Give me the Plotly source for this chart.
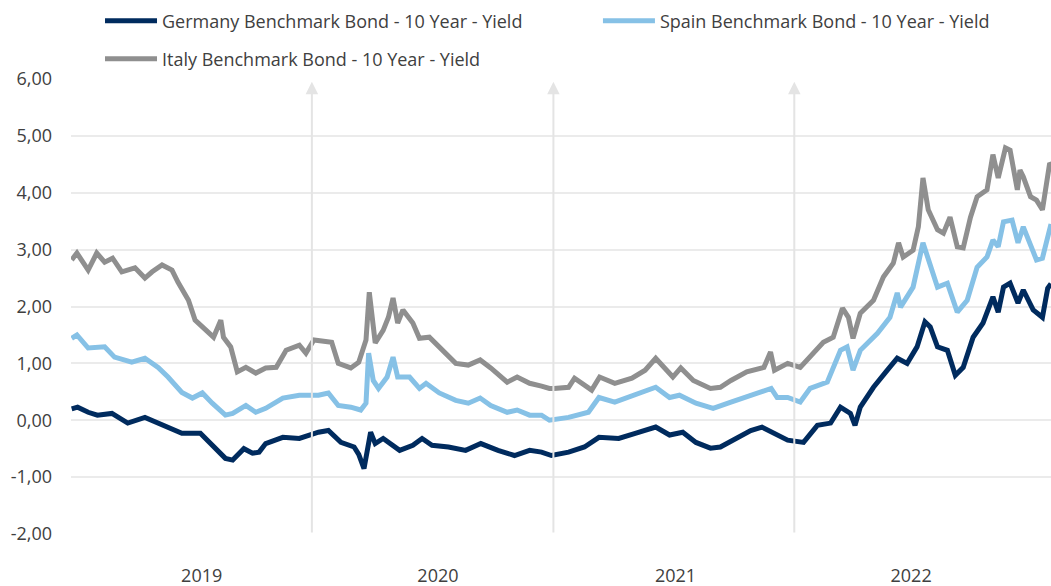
import plotly.graph_objects as go

# ---------------- data ----------------
de_dates = ["2019-01-02","2019-01-11","2019-01-27","2019-02-10","2019-03-04","2019-03-28","2019-04-23","2019-05-19",
            "2019-06-18","2019-07-16","2019-08-03","2019-08-23","2019-09-03","2019-09-20","2019-10-03","2019-10-13",
            "2019-10-23","2019-11-18","2019-12-13","2020-01-01","2020-01-11","2020-01-26","2020-02-14","2020-03-05",
            "2020-03-12","2020-03-20","2020-03-30","2020-04-06","2020-04-18","2020-05-13","2020-06-02","2020-06-16",
            "2020-07-01","2020-07-26","2020-08-21","2020-09-13","2020-10-09","2020-11-03","2020-11-26","2020-12-14",
            "2020-12-29","2021-01-24","2021-02-17","2021-03-11","2021-04-10","2021-05-05","2021-06-05","2021-06-26",
            "2021-07-16","2021-08-05","2021-08-27","2021-09-11","2021-10-06","2021-10-27","2021-11-13","2021-12-02",
            "2021-12-22","2022-01-15","2022-02-05","2022-02-25","2022-03-12","2022-03-27","2022-04-03","2022-04-11",
            "2022-05-01","2022-05-22","2022-06-06","2022-06-21","2022-07-06","2022-07-18","2022-07-26","2022-08-06",
            "2022-08-21","2022-09-02","2022-09-14","2022-09-29","2022-10-14","2022-10-29","2022-11-06","2022-11-14",
            "2022-11-24","2022-12-06","2022-12-14","2022-12-29","2023-01-12","2023-01-20","2023-01-25"]
de_values = [0.20,0.23,0.14,0.09,0.12,-0.05,0.05,-0.09,
             -0.23,-0.23,-0.44,-0.67,-0.70,-0.50,-0.58,-0.56,
             -0.41,-0.30,-0.32,-0.25,-0.21,-0.18,-0.39,-0.47,
             -0.60,-0.85,-0.21,-0.41,-0.32,-0.53,-0.44,-0.32,
             -0.44,-0.47,-0.53,-0.41,-0.53,-0.62,-0.53,-0.56,
             -0.62,-0.56,-0.47,-0.30,-0.32,-0.23,-0.12,-0.26,
             -0.21,-0.39,-0.49,-0.47,-0.30,-0.18,-0.12,-0.23,
             -0.35,-0.39,-0.09,-0.05,0.23,0.12,-0.09,0.23,
             0.58,0.88,1.09,1.00,1.29,1.73,1.64,1.29,
             1.23,0.79,0.93,1.46,1.71,2.17,1.90,2.34,
             2.41,2.06,2.29,1.94,1.81,2.32,2.40]

es_dates = ["2019-01-02","2019-01-10","2019-01-27","2019-02-21","2019-03-08","2019-04-03","2019-04-23","2019-05-13",
            "2019-05-28","2019-06-18","2019-07-04","2019-07-19","2019-08-03","2019-08-23","2019-09-03","2019-09-23",
            "2019-10-08","2019-10-23","2019-11-18","2019-12-13","2020-01-11","2020-01-26","2020-02-10","2020-02-29",
            "2020-03-15","2020-03-23","2020-03-27","2020-04-03","2020-04-11","2020-04-24","2020-05-03","2020-05-10",
            "2020-05-28","2020-06-12","2020-06-22","2020-07-12","2020-08-06","2020-08-25","2020-09-12","2020-09-28",
            "2020-10-23","2020-11-07","2020-11-26","2020-12-14","2020-12-26","2021-01-16","2021-01-24","2021-02-23",
            "2021-03-11","2021-04-04","2021-05-05","2021-06-05","2021-06-26","2021-07-11","2021-08-05","2021-08-31",
            "2021-09-27","2021-10-27","2021-11-27","2021-12-06","2021-12-22","2022-01-10","2022-01-25","2022-02-20",
            "2022-03-12","2022-03-22","2022-03-31","2022-04-11","2022-05-07","2022-05-26","2022-06-06","2022-06-11",
            "2022-06-30","2022-07-15","2022-07-26","2022-08-06","2022-08-21","2022-09-05","2022-09-20","2022-10-05",
            "2022-10-20","2022-10-29","2022-11-06","2022-11-14","2022-11-27","2022-12-06","2022-12-14","2022-12-25",
            "2023-01-03","2023-01-12","2023-01-23","2023-01-25"]
es_values = [1.44,1.50,1.27,1.29,1.11,1.02,1.09,0.93,
             0.76,0.49,0.39,0.48,0.30,0.09,0.12,0.26,
             0.14,0.21,0.39,0.44,0.44,0.48,0.26,0.23,
             0.18,0.30,1.18,0.70,0.56,0.76,1.11,0.76,
             0.76,0.56,0.65,0.48,0.35,0.30,0.39,0.26,
             0.14,0.18,0.09,0.09,0.00,0.04,0.05,0.14,
             0.40,0.32,0.44,0.58,0.40,0.44,0.30,0.21,
             0.32,0.44,0.56,0.40,0.40,0.32,0.56,0.67,
             1.23,1.29,0.88,1.23,1.53,1.81,2.24,1.99,
             2.34,3.12,2.76,2.34,2.41,1.90,2.11,2.69,
             2.87,3.17,3.05,3.49,3.52,3.12,3.40,3.05,
             2.82,2.85,3.40,3.45]

it_dates = ["2019-01-02","2019-01-10","2019-01-27","2019-02-09","2019-02-21","2019-03-05","2019-03-19","2019-04-08",
            "2019-04-23","2019-05-04","2019-05-19","2019-06-03","2019-06-12","2019-06-28","2019-07-08","2019-07-24",
            "2019-08-05","2019-08-16","2019-08-20","2019-08-31","2019-09-10","2019-09-23","2019-10-08","2019-10-23",
            "2019-11-08","2019-11-23","2019-12-13","2019-12-23","2020-01-04","2020-01-31","2020-02-10","2020-02-29",
            "2020-03-12","2020-03-23","2020-03-28","2020-04-06","2020-04-18","2020-04-26","2020-05-03","2020-05-10",
            "2020-05-18","2020-06-02","2020-06-12","2020-06-27","2020-07-16","2020-08-06","2020-08-25","2020-09-12",
            "2020-09-28","2020-10-23","2020-11-07","2020-11-26","2020-12-14","2020-12-26","2021-01-02","2021-01-24",
            "2021-02-02","2021-02-28","2021-03-12","2021-04-04","2021-04-30","2021-05-20","2021-06-05","2021-06-15",
            "2021-07-01","2021-07-13","2021-08-01","2021-08-27","2021-09-11","2021-09-27","2021-10-21","2021-11-16",
            "2021-11-26","2021-12-02","2021-12-22","2022-01-10","2022-01-25","2022-02-14","2022-03-01","2022-03-15",
            "2022-03-24","2022-03-31","2022-04-11","2022-05-01","2022-05-16","2022-05-31","2022-06-08","2022-06-15",
            "2022-06-30","2022-07-08","2022-07-15","2022-07-23","2022-08-06","2022-08-15","2022-08-25","2022-09-05",
            "2022-09-14","2022-09-25","2022-10-05","2022-10-20","2022-10-29","2022-11-06","2022-11-17","2022-11-24",
            "2022-12-05","2022-12-09","2022-12-14","2022-12-25","2023-01-03","2023-01-12","2023-01-23","2023-01-25"]
it_values = [2.82,2.94,2.64,2.94,2.78,2.85,2.61,2.68,
             2.50,2.61,2.73,2.64,2.43,2.11,1.76,1.58,
             1.46,1.76,1.46,1.29,0.85,0.93,0.83,0.92,
             0.93,1.23,1.32,1.18,1.41,1.37,1.00,0.92,
             1.02,1.41,2.25,1.36,1.58,1.81,2.15,1.71,
             1.94,1.71,1.44,1.46,1.23,1.00,0.97,1.06,
             0.92,0.67,0.76,0.65,0.60,0.56,0.56,0.58,
             0.74,0.53,0.76,0.65,0.74,0.88,1.09,0.97,
             0.76,0.92,0.70,0.56,0.58,0.70,0.85,0.93,
             1.20,0.88,1.00,0.93,1.11,1.37,1.46,1.97,
             1.81,1.44,1.88,2.11,2.52,2.76,3.12,2.87,
             2.99,3.40,4.26,3.70,3.35,3.29,3.57,3.05,
             3.03,3.57,3.93,4.05,4.67,4.26,4.79,4.75,
             4.05,4.40,4.28,3.93,3.87,3.70,4.52,4.50]

year_labels = ["2019", "2020", "2021", "2022"]
year_label_dates = ["2019-07-18", "2020-07-10", "2021-07-05", "2022-06-27"]
year_bounds = ["2020-01-01", "2021-01-01", "2022-01-01"]
y_ticks = [-2, -1, 0, 1, 2, 3, 4, 5, 6]
y_ticktext = ["-2,00", "-1,00", "0,00", "1,00", "2,00", "3,00", "4,00", "5,00", "6,00"]

# ---------------- figure ----------------
FONT = "Open Sans"
TXT = "#404040"

fig = go.Figure()
fig.add_trace(go.Scatter(x=de_dates, y=de_values, mode="lines",
                         name="Germany Benchmark Bond - 10 Year - Yield",
                         line=dict(color="#002b5e", width=5), legend="legend"))
fig.add_trace(go.Scatter(x=es_dates, y=es_values, mode="lines",
                         name="Spain Benchmark Bond - 10 Year - Yield",
                         line=dict(color="#86c1e6", width=5), legend="legend2"))
fig.add_trace(go.Scatter(x=it_dates, y=it_values, mode="lines",
                         name="Italy Benchmark Bond - 10 Year - Yield",
                         line=dict(color="#8f8f8f", width=5), legend="legend3"))

# year separators drawn as upward arrows
for d in year_bounds:
    fig.add_annotation(x=d, y=5.95, ax=d, ay=-2, xref="x", yref="y", axref="x", ayref="y",
                       text="", showarrow=True, arrowhead=2, arrowsize=1.25, arrowwidth=2,
                       arrowcolor="#e4e4e4", standoff=0, startstandoff=0)

leg_common = dict(orientation="h", xanchor="left", yanchor="middle", bgcolor="rgba(0,0,0,0)",
                  font=dict(family=FONT, size=18, color=TXT), itemwidth=52, borderwidth=0)

fig.update_layout(
    width=1051, height=586,
    margin=dict(l=71, r=0, t=79, b=52, autoexpand=False),
    paper_bgcolor="white", plot_bgcolor="white",
    font=dict(family=FONT, size=18, color=TXT),
    showlegend=True,
    legend=dict(x=0.0296, y=1.1275, **leg_common),
    legend2=dict(x=0.5377, y=1.1275, **leg_common),
    legend3=dict(x=0.0296, y=1.044, **leg_common),
    xaxis=dict(type="date", range=["2019-01-01", "2023-01-25"], showgrid=False, zeroline=False,
               showline=False, tickmode="array", tickvals=year_label_dates, ticktext=year_labels,
               ticks="", ticklabelstandoff=29, automargin=False,
               tickfont=dict(family=FONT, size=18, color=TXT)),
    yaxis=dict(range=[-2, 6], tickmode="array", tickvals=y_ticks, ticktext=y_ticktext,
               showgrid=True, gridcolor="#ebebeb", gridwidth=2, zeroline=False, showline=False,
               ticks="", ticklabelstandoff=18, automargin=False,
               tickfont=dict(family=FONT, size=18, color=TXT)),
)

fig.write_html("out.html", config={"displayModeBar": False},
               post_script="document.body.style.margin='0';document.body.style.overflow='hidden';")
